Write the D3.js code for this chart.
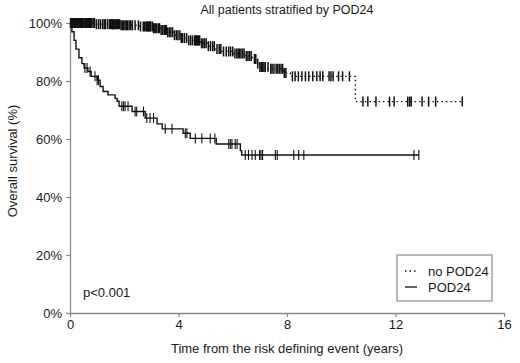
<!DOCTYPE html>
<html>
<head>
  <meta charset="utf-8">
  <script src="https://d3js.org/d3.v7.min.js"></script>
  <style type="text/css">
    body { margin: 0; background: #fff; }
    text { font-family: Arial, "Liberation Sans", sans-serif; fill: #1a1a1a; }
  </style>
</head>
<body>
<script type="text/javascript">
  "use strict";

  // Kaplan-Meier steps: time (years) and survival (%) after the drop
  var noPodTimes = [0.92, 1.85, 2.58, 3.07, 3.32, 3.58, 3.84, 4.06, 4.36, 4.80, 5.10, 5.35, 5.61, 6.02, 6.46, 6.72, 6.91, 6.98, 7.31, 7.87, 8.12, 10.52];
  var noPodSurv  = [99.6, 99.2, 98.8, 98.2, 97.6, 96.8, 95.8, 94.8, 94.0, 93.0, 92.0, 91.0, 90.2, 89.5, 88.6, 87.6, 86.0, 84.8, 84.2, 82.8, 81.6, 72.9];
  var noPodEnd = 14.46;
  var noPodCensor = [0.02, 0.04, 0.06, 0.08, 0.1, 0.12, 0.14, 0.17, 0.2, 0.22, 0.24, 0.28, 0.3, 0.33, 0.35, 0.38, 0.4, 0.43, 0.47, 0.5, 0.55, 0.58, 0.6, 0.63, 0.66, 0.68, 0.72, 0.76, 0.8, 0.85, 0.9, 0.97, 1.05, 1.12, 1.2, 1.26, 1.3, 1.38, 1.45, 1.5, 1.53, 1.55, 1.58, 1.6, 1.63, 1.66, 1.7, 1.72, 1.75, 1.78, 1.83, 1.88, 1.93, 1.98, 2.03, 2.08, 2.12, 2.18, 2.24, 2.3, 2.4, 2.52, 2.6, 2.7, 2.75, 2.8, 2.83, 2.86, 2.9, 2.92, 2.95, 2.98, 3.04, 3.08, 3.1, 3.15, 3.2, 3.26, 3.3, 3.36, 3.42, 3.48, 3.52, 3.55, 3.6, 3.66, 3.72, 3.78, 3.85, 3.92, 3.98, 4.05, 4.1, 4.15, 4.22, 4.3, 4.38, 4.45, 4.52, 4.6, 4.62, 4.64, 4.66, 4.7, 4.72, 4.75, 4.78, 4.85, 4.9, 4.96, 5.02, 5.1, 5.18, 5.26, 5.32, 5.42, 5.5, 5.56, 5.66, 5.76, 5.85, 5.92, 6.0, 6.08, 6.15, 6.2, 6.24, 6.3, 6.36, 6.42, 6.5, 6.56, 6.62, 6.68, 6.8, 6.85, 6.92, 7.0, 7.05, 7.1, 7.15, 7.2, 7.3, 7.4, 7.45, 7.52, 7.6, 7.66, 7.72, 7.78, 7.84, 7.9, 7.96, 8.2, 8.3, 8.42, 8.55, 8.68, 8.8, 8.95, 9.1, 9.22, 9.32, 9.55, 9.62, 9.7, 9.9, 10.05, 10.3, 10.8, 10.98, 11.28, 11.78, 11.95, 12.45, 12.52, 12.58, 12.98, 13.22, 13.48, 14.46];

  var podTimes = [0.07, 0.15, 0.22, 0.33, 0.44, 0.52, 0.66, 0.78, 1.00, 1.11, 1.22, 1.40, 1.66, 1.74, 1.81, 2.29, 2.77, 3.21, 3.40, 4.17, 4.43, 5.39, 6.28, 6.33];
  var podSurv  = [97.0, 94.0, 91.0, 88.0, 86.0, 84.5, 83.3, 81.6, 80.3, 78.1, 76.4, 75.2, 74.0, 73.0, 71.3, 69.5, 67.2, 65.2, 63.5, 62.0, 60.2, 58.3, 56.0, 54.5];
  var podEnd = 12.87;
  var podCensor = [0.55, 0.63, 0.74, 0.92, 1.0, 1.05, 1.91, 1.97, 2.03, 2.14, 2.4, 2.46, 2.71, 2.83, 2.95, 3.08, 3.51, 3.76, 4.25, 4.31, 4.62, 4.86, 5.17, 5.34, 5.85, 5.91, 5.97, 6.09, 6.16, 6.46, 6.58, 6.71, 6.83, 6.99, 7.04, 7.1, 7.57, 7.64, 8.25, 8.43, 8.62, 12.68, 12.86];

  var xTicks = [0, 4, 8, 12, 16];
  var yTicks = [0, 20, 40, 60, 80, 100];

  var margin = {top: 23, right: 16, bottom: 50, left: 70},
      width = 520 - margin.left - margin.right,
      height = 363 - margin.top - margin.bottom;

  var svg = d3.select("body")
    .append("svg")
      .attr("width", 520)
      .attr("height", 363);

  var g = svg.append("g")
      .attr("transform", "translate(" + margin.left + "," + margin.top + ")");

  var x = d3.scaleLinear().domain([0, 16]).range([0, width]);
  var y = d3.scaleLinear().domain([0, 100]).range([height, 0]);

  var axisColor = "#8a8a8a";

  var xAxis = g.append("g")
      .attr("transform", "translate(0," + height + ")")
      .call(d3.axisBottom(x).tickValues(xTicks).tickSize(4).tickSizeOuter(0).tickPadding(3));
  var yAxis = g.append("g")
      .call(d3.axisLeft(y).tickValues(yTicks).tickSize(4).tickSizeOuter(0).tickPadding(4)
        .tickFormat(function(d) { return d + "%"; }));

  [xAxis, yAxis].forEach(function(a) {
    a.select(".domain").attr("stroke", axisColor).attr("stroke-width", 1.3);
    a.selectAll(".tick line").attr("stroke", axisColor).attr("stroke-width", 1.2);
    a.selectAll(".tick text")
      .style("font-size", "13px")
      .style("font-family", "Arial, 'Liberation Sans', sans-serif")
      .attr("fill", "#1a1a1a");
  });

  // build the step curve and look up survival at censor times
  function steps(times, surv, end) {
    var pts = [[0, 100]];
    times.forEach(function(t, i) { pts.push([t, surv[i]]); });
    pts.push([end, surv[surv.length - 1]]);
    return pts;
  }
  function survAt(times, surv, t) {
    var s = 100;
    for (var i = 0; i < times.length; i++) {
      if (times[i] <= t) s = surv[i];
    }
    return s;
  }

  var line = d3.line()
      .x(function(d) { return x(d[0]); })
      .y(function(d) { return y(d[1]); })
      .curve(d3.curveStepAfter);

  var groups = [
    {times: noPodTimes, surv: noPodSurv, end: noPodEnd, censor: noPodCensor, dash: "1.5,3", tickW: 1.5},
    {times: podTimes, surv: podSurv, end: podEnd, censor: podCensor, dash: null, tickW: 1.1}
  ];

  groups.forEach(function(grp) {
    g.append("path")
      .datum(steps(grp.times, grp.surv, grp.end))
      .attr("d", line)
      .attr("fill", "none")
      .attr("stroke", "#111")
      .attr("stroke-width", 1.4)
      .attr("stroke-dasharray", grp.dash);

    g.selectAll(null)
      .data(grp.censor)
      .enter().append("line")
        .attr("x1", function(d) { return x(d); })
        .attr("x2", function(d) { return x(d); })
        .attr("y1", function(d) { return y(survAt(grp.times, grp.surv, d)) - 5; })
        .attr("y2", function(d) { return y(survAt(grp.times, grp.surv, d)) + 5; })
        .attr("stroke", "#111")
        .attr("stroke-width", grp.tickW);
  });

  // title and axis labels
  svg.append("text")
    .text("All patients stratified by POD24")
    .attr("x", margin.left + width / 2)
    .attr("y", 14)
    .style("text-anchor", "middle")
    .style("font-size", "12.5px");

  svg.append("text")
    .text("Time from the risk defining event (years)")
    .attr("x", margin.left + width / 2)
    .attr("y", 353)
    .style("text-anchor", "middle")
    .style("font-size", "13px");

  svg.append("text")
    .text("Overall survival (%)")
    .attr("transform", "translate(17,161) rotate(-90)")
    .style("text-anchor", "middle")
    .style("font-size", "13px");

  svg.append("text")
    .text("p<0.001")
    .attr("x", 83)
    .attr("y", 297)
    .style("font-size", "13px");

  // legend
  var legend = svg.append("g").attr("transform", "translate(397,255)");
  legend.append("rect")
    .attr("width", 95)
    .attr("height", 46)
    .attr("fill", "#fff")
    .attr("stroke", "#777")
    .attr("stroke-width", 1);

  var legendNames = ["no POD24", "POD24"];
  legendNames.forEach(function(name, i) {
    legend.append("line")
      .attr("x1", 8).attr("x2", 20)
      .attr("y1", 16 + i * 16).attr("y2", 16 + i * 16)
      .attr("stroke", "#111")
      .attr("stroke-width", 1.3)
      .attr("stroke-dasharray", groups[i].dash);
    legend.append("text")
      .text(name)
      .attr("x", 31)
      .attr("y", 21 + i * 16)
      .style("font-size", "13px");
  });
</script>
</body>
</html>
